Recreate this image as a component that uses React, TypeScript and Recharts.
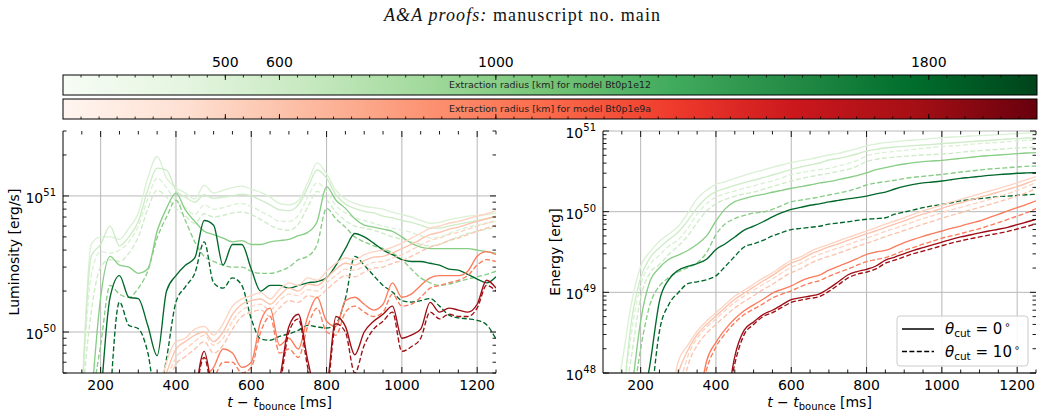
import React from 'react';
import { LineChart, Line, XAxis, YAxis, ReferenceLine } from 'recharts';

// Time axis shared by every series (ms after bounce)
const timeMs = [100, 125, 150, 175, 200, 225, 250, 275, 300, 325, 350, 375, 400, 425, 450, 475, 500, 525, 550, 575, 600, 625, 650, 675, 700, 725, 750, 775, 800, 825, 850, 875, 900, 925, 950, 975, 1000, 1025, 1050, 1075, 1100, 1125, 1150, 1175, 1200, 1225, 1250];

// Luminosity in units of 1e50 erg/s. s = theta_cut 0deg, d = theta_cut 10deg
const lumG500s = [null, null, 0.3, 4.4, 5.0, 5.0, 4.8, 5.8, 7.5, 13.5, 19.5, 13.5, 11.5, 10.5, 9.5, 12, 10.5, 11, 11.5, 11.8, 11.2, 10.6, 9.8, 8.8, 8.6, 9.2, 12.5, 17.5, 14.5, 11, 9.5, 8.8, 8.4, 8.2, 8.0, 7.6, 7.3, 7.0, 6.6, 6.3, 6.4, 6.7, 6.9, 7.1, 7.2, 7.3, 7.5];
const lumG500d = [null, null, 0.3, 2.6, 3.9, 3.8, 4.0, 4.6, 6.0, 9.5, 13.5, 11.5, 9.2, 8.2, 7.3, 8.6, 8.0, 8.2, 8.6, 8.8, 8.4, 7.7, 7.1, 6.5, 6.5, 7.2, 9.8, 12.5, 10.8, 8.5, 7.5, 6.9, 6.6, 6.3, 6.0, 5.8, 5.6, 5.4, 5.1, 4.9, 5.0, 5.3, 5.6, 5.9, 6.1, 6.3, 6.5];
const lumG600s = [null, null, 0.3, 3.6, 4.4, 6.0, 4.3, 5.0, 6.5, 11, 16, 15.5, 11, 9.8, 9.0, 10.2, 9.6, 9.8, 10.0, 10.3, 10.0, 9.3, 8.6, 7.9, 7.8, 8.6, 11.5, 15.5, 13.5, 10.2, 8.7, 8.1, 7.7, 7.5, 7.1, 6.9, 6.6, 6.4, 6.1, 5.8, 5.8, 6.0, 6.2, 6.4, 6.6, 6.8, 7.0];
const lumG600d = [null, null, 0.3, 1.4, 3.0, 3.4, 3.3, 3.8, 5.0, 8.0, 11.0, 9.8, 8.1, 7.1, 6.3, 7.4, 7.0, 7.2, 7.5, 7.6, 7.3, 6.7, 6.1, 5.7, 5.6, 6.2, 8.3, 10.8, 9.4, 7.6, 6.6, 6.0, 5.8, 5.6, 5.3, 5.0, 4.8, 4.6, 4.4, 4.3, 4.4, 4.7, 5.0, 5.3, 5.5, 5.7, 5.9];
const lumG1000s = [null, null, null, 0.3, 1.8, 3.6, 3.1, 3.0, 2.7, 2.9, 5.5, 8.1, 10.5, 7.9, 6.5, 5.5, 5.2, 4.9, 4.6, 4.7, 4.4, 4.4, 4.6, 4.7, 4.8, 5.1, 5.4, 6.5, 11.7, 9.3, 8.1, 6.8, 6.1, 5.9, 5.7, 5.5, 5.0, 4.5, 4.2, 4.1, 4.1, 4.1, 4.1, 4.1, 4.0, 3.9, 3.8];
const lumG1000d = [null, null, null, 0.3, 0.8, 2.2, 1.9, 1.8, 2.1, 2.8, 4.9, 7.0, 9.3, 6.6, 4.6, 3.6, 3.3, 3.1, 3.0, 3.0, 2.8, 2.7, 2.7, 2.8, 3.0, 3.4, 3.6, 4.4, 8.1, 6.8, 5.9, 5.0, 4.6, 4.3, 4.1, 3.8, 3.4, 2.9, 2.5, 2.3, 2.2, 2.25, 2.35, 2.45, 2.55, 2.65, 2.8];
const lumG1800s = [null, null, null, null, 0.3, 1.8, 2.6, 1.8, 1.76, 1.12, 0.67, 2.0, 2.6, 3.1, 3.5, 6.6, 6.1, 3.1, 4.4, 4.4, 2.9, 2.0, 2.2, 2.2, 2.1, 2.2, 2.3, 2.35, 2.5, 3.1, 4.1, 5.3, 5.0, 4.5, 4.0, 3.7, 3.4, 3.3, 3.3, 3.2, 3.1, 2.9, 2.85, 2.65, 2.45, 2.3, 2.55];
const lumG1800d = [null, null, null, null, null, 0.3, 1.66, 1.12, 1.06, 0.71, 0.3, 0.64, 1.66, 2.15, 2.7, 4.6, 2.3, 2.1, 2.5, 2.2, 1.25, 0.89, 0.87, 0.93, 0.97, 1.03, 1.12, 1.09, 1.07, 1.15, 1.76, 3.6, 3.1, 2.6, 2.2, 1.97, 1.7, 1.66, 1.7, 1.76, 1.55, 1.33, 1.27, 1.25, 1.22, 1.13, 0.89];
const lumR500s = [null, null, null, null, null, null, null, null, null, null, 0.3, 0.6, 0.85, 0.9, 1.05, 1.1, 0.95, 1.15, 1.55, 1.75, 1.85, 1.95, 1.75, 2.05, 2.3, 2.2, 2.5, 2.4, 2.8, 3.2, 3.5, 3.4, 3.7, 3.9, 4.0, 4.2, 4.5, 4.9, 5.3, 5.8, 6.0, 6.3, 6.5, 6.8, 7.1, 7.4, 7.8];
const lumR500d = [null, null, null, null, null, null, null, null, null, null, 0.3, 0.45, 0.65, 0.75, 0.85, 0.95, 0.8, 0.9, 1.2, 1.45, 1.55, 1.6, 1.45, 1.7, 1.9, 1.85, 2.05, 2.0, 2.3, 2.6, 2.9, 2.85, 3.05, 3.25, 3.3, 3.5, 3.7, 4.0, 4.35, 4.7, 4.9, 5.2, 5.4, 5.7, 6.0, 6.3, 6.6];
const lumR600s = [null, null, null, null, null, null, null, null, null, null, 0.3, 0.5, 0.75, 0.85, 0.95, 1.0, 0.85, 1.0, 1.35, 1.6, 1.7, 1.75, 1.6, 1.85, 2.1, 2.0, 2.25, 2.2, 2.5, 2.9, 3.2, 3.1, 3.35, 3.55, 3.6, 3.8, 4.1, 4.4, 4.8, 5.2, 5.4, 5.7, 5.9, 6.2, 6.5, 6.8, 7.1];
const lumR600d = [null, null, null, null, null, null, null, null, null, null, 0.3, 0.4, 0.58, 0.66, 0.75, 0.85, 0.7, 0.8, 1.05, 1.3, 1.4, 1.45, 1.3, 1.5, 1.7, 1.65, 1.85, 1.8, 2.05, 2.35, 2.6, 2.55, 2.75, 2.95, 3.0, 3.2, 3.35, 3.6, 3.9, 4.2, 4.4, 4.7, 4.9, 5.2, 5.5, 5.8, 6.1];
const lumR1000s = [null, null, null, null, null, null, null, null, null, null, null, null, null, null, 0.3, 0.45, 0.55, 0.75, 0.7, 0.55, 0.6, 1.2, 1.5, 0.8, 0.9, 0.75, 1.3, 1.8, 1.2, 1.1, 1.7, 1.8, 1.6, 1.45, 1.6, 2.3, 1.8, 1.9, 2.2, 2.5, 2.6, 2.6, 2.6, 2.8, 3.6, 3.9, 3.7];
const lumR1000d = [null, null, null, null, null, null, null, null, null, null, null, null, null, null, 0.3, 0.35, 0.45, 0.6, 0.6, 0.5, 0.55, 1.0, 1.3, 0.7, 0.75, 0.65, 1.1, 1.5, 1.0, 0.95, 1.4, 1.55, 1.4, 1.3, 1.4, 1.9, 1.55, 1.6, 1.8, 2.1, 2.2, 2.3, 2.4, 2.6, 3.1, 3.4, 3.3];
const lumR1800s = [null, null, null, null, null, null, null, null, null, null, null, null, null, null, 0.3, 0.72, 0.35, 0.3, 0.3, 0.45, 0.4, 0.3, 0.3, 0.45, 1.1, 1.35, 0.62, 0.35, 0.4, 1.3, 1.1, 0.68, 1.0, 1.2, 1.35, 1.55, 0.9, 0.95, 1.05, 1.65, 1.4, 1.5, 1.45, 1.4, 1.6, 2.4, 2.1];
const lumR1800d = [null, null, null, null, null, null, null, null, null, null, null, null, null, null, 0.3, 0.65, 0.33, 0.3, 0.3, 0.4, 0.36, 0.3, 0.3, 0.4, 1.0, 1.25, 0.55, 0.32, 0.36, 1.15, 1.0, 0.5, 0.8, 1.05, 1.2, 1.4, 0.72, 0.78, 0.9, 1.4, 1.25, 1.35, 1.3, 1.3, 1.5, 2.2, 2.0];

// Cumulative energy in units of 1e48 erg
const enG500s = [null, 0.3, 1.3, 7.1, 21, 32, 43, 53, 66, 95, 145, 184, 218, 235, 259, 282, 307, 328, 355, 379, 405, 429, 449, 476, 504, 529, 565, 604, 658, 690, 717, 738, 759, 773, 788, 811, 827, 843, 851, 867, 875, 888, 900, 914, 927, 940, 953];
const enG500d = [null, null, 0.3, 3.0, 12.3, 22.2, 29, 37.6, 45, 62, 93, 125, 152, 167, 180, 195, 208, 225, 240, 264, 290, 304, 319, 332, 344, 368, 394, 433, 490, 524, 544, 560, 576, 593, 610, 627, 640, 652, 664, 684, 697, 710, 724, 738, 752, 766, 773];
const enG600s = [null, null, 0.3, 4.2, 15.2, 26.9, 35.8, 45, 56, 77, 112, 149, 177, 195, 212, 229, 245, 264, 285, 307, 335, 358, 379, 401, 437, 458, 485, 519, 565, 593, 616, 633, 645, 658, 671, 684, 697, 710, 724, 738, 752, 766, 780, 796, 804, 819, 827];
const enG600d = [null, null, 0.3, 1.55, 8.6, 17.5, 22.2, 29.6, 37.6, 50, 73, 102, 125, 142, 155, 166, 175, 189, 204, 222, 240, 257, 271, 285, 299, 316, 335, 368, 417, 445, 462, 476, 485, 495, 504, 510, 518, 529, 544, 560, 571, 582, 593, 604, 616, 622, 633];
const enG1000s = [null, null, null, 0.5, 4.4, 13.8, 20.2, 25.7, 29, 33, 39.4, 50, 76.6, 109, 133, 145, 156, 164, 174, 184, 195, 204, 214, 227, 236, 249, 264, 280, 302, 332, 351, 372, 390, 405, 417, 425, 433, 445, 458, 471, 485, 495, 504, 514, 524, 534, 539];
const enG1000d = [null, null, null, 0.3, 2.0, 7.1, 12, 15.2, 18, 20.2, 23.3, 31, 52, 71, 82, 90, 96, 99, 107, 119, 133, 139, 145, 152, 161, 170, 180, 195, 214, 227, 236, 245, 257, 267, 274, 282, 290, 299, 310, 319, 328, 338, 344, 351, 358, 365, 368];
const enG1800s = [null, null, null, null, 0.3, 1.3, 7.8, 14.5, 18.8, 21, 22.7, 25.7, 34, 40, 48.6, 59, 66, 75, 86, 97, 107, 113, 120, 125, 132, 138, 144, 149, 156, 166, 175, 191, 206, 218, 227, 233, 240, 249, 259, 266, 274, 282, 288, 293, 299, 302, 304];
const enG1800d = [null, null, null, null, null, 0.3, 3.3, 7.1, 9.9, 12.8, 13.5, 14.3, 16, 21, 28, 36.5, 40, 44, 50, 55, 60, 62, 64, 66, 70, 72.5, 75, 78, 80.5, 82, 84, 93, 99, 105, 112, 118, 123, 129, 136, 141, 145, 149, 154, 156, 159, 162, 164];
const enR500s = [null, null, null, null, null, null, null, 0.3, 1.4, 2.2, 3.3, 4.4, 5.6, 7.1, 9.0, 10.6, 12.6, 15, 17.5, 21, 25, 27.5, 32, 35.8, 39.4, 43.3, 47.6, 52.4, 57.6, 63, 70, 76.6, 84, 93, 102, 111, 121, 132, 142, 154, 166, 179, 193, 210, 228, 250, 272];
const enR500d = [null, null, null, null, null, null, null, 0.2, 0.6, 1.6, 2.7, 3.7, 4.7, 6.0, 7.5, 9.0, 10.6, 12.5, 14.6, 17.5, 20.5, 22.8, 26.5, 29.5, 32.5, 35.5, 39, 43, 47, 51.5, 57, 62, 68, 75, 82, 89, 97, 105, 113, 122, 131, 141, 153, 167, 183, 205, 228];
const enR600s = [null, null, null, null, null, null, null, 0.3, 1.0, 1.9, 3.0, 4.0, 5.1, 6.5, 8.2, 9.8, 11.6, 13.8, 16.2, 19.5, 23, 25.5, 29.5, 33, 36.5, 40, 44, 48.5, 53, 58, 64, 70, 77, 85, 93, 101, 110, 120, 129, 139, 150, 162, 175, 189, 205, 225, 250];
const enR600d = [null, null, null, null, null, null, null, null, 0.3, 1.2, 2.2, 3.1, 4.0, 5.1, 6.4, 7.7, 9.1, 10.8, 12.6, 15, 17.6, 19.6, 22.8, 25.5, 28, 30.5, 33.5, 37, 40.5, 44.5, 49, 53.5, 58.5, 64, 70, 76, 83, 90, 97, 105, 113, 122, 132, 143, 156, 172, 195];
const enR1000s = [null, null, null, null, null, null, null, null, null, null, 0.3, 1.4, 2.4, 3.5, 4.7, 5.9, 7.0, 8.2, 9.8, 10.9, 12.0, 13.8, 15.2, 16.4, 18.8, 21, 23.3, 26.2, 29.6, 31.6, 33.1, 36.8, 41.3, 45.4, 49.5, 53.4, 57.6, 62, 66.3, 71.7, 76.6, 84.3, 92.7, 102, 112, 123, 136];
const enR1000d = [null, null, null, null, null, null, null, null, null, null, 0.3, 1.1, 2.1, 3.1, 4.2, 5.3, 6.2, 7.2, 8.5, 9.5, 10.4, 11.8, 13.0, 14.0, 15.8, 17.6, 19.4, 21.7, 24.0, 25.5, 27, 29.6, 33, 36, 39.5, 43, 47, 50, 53.5, 57.5, 61.5, 67, 73, 80, 88, 97, 109];
const enR1800s = [null, null, null, null, null, null, null, null, null, null, null, null, null, 0.3, 1.6, 3.4, 4.3, 5.3, 6.0, 7.0, 8.1, 8.6, 9.0, 9.6, 11.2, 13.5, 16.4, 18.1, 19.3, 21.2, 25.1, 27.4, 30.2, 33.1, 35.8, 38.7, 41.8, 45.4, 48.6, 51.4, 54.5, 57.6, 60.5, 64, 69, 74.5, 80.4];
const enR1800d = [null, null, null, null, null, null, null, null, null, null, null, null, null, 0.3, 1.3, 3.0, 4.0, 5.0, 5.6, 6.5, 7.5, 8.0, 8.4, 8.9, 10.3, 12.4, 15.0, 16.8, 17.8, 19.5, 23.0, 25.0, 27.5, 30.2, 32.5, 35.0, 37.8, 40.8, 43.5, 46, 48.6, 51.3, 53.8, 57, 61, 65.5, 70.5];

// Extraction radii (km) and their colours on the two colour bars
const radiusKm = [500, 600, 1000, 1800];
const greenShades = ['#dbf1d5', '#ceecc7', '#88cd86', '#00682a'];
const redShades = ['#fdd4c2', '#fcc3ac', '#fb7c5c', '#9e0d14'];
const greensMap = ['#f7fcf5', '#e5f5e0', '#c7e9c0', '#a1d99b', '#74c476', '#41ab5d', '#238b45', '#006d2c', '#00441b'];
const redsMap = ['#fff5f0', '#fee0d2', '#fcbba1', '#fc9272', '#fb6a4a', '#ef3b2c', '#cb181d', '#a50f15', '#67000d'];
const colorbarRangeKm = [200, 2000];
const colorbarMinorCount = 54;
const colorbarTitles = ['Extraction radius [km] for model Bt0p1e12', 'Extraction radius [km] for model Bt0p1e9a'];

// Axis ticks
const xMajorTicks = [200, 400, 600, 800, 1000, 1200];
const xAllTicks = [150, 200, 250, 300, 350, 400, 450, 500, 550, 600, 650, 700, 750, 800, 850, 900, 950, 1000, 1050, 1100, 1150, 1200, 1250];
const lumTicks = [0.5, 0.6, 0.7, 0.8, 0.9, 1, 2, 3, 4, 5, 6, 7, 8, 9, 10, 20, 30];
const lumMajor = [1, 10];
const lumExponents = ['50', '51'];
const enTicks = [1, 2, 3, 4, 5, 6, 7, 8, 9, 10, 20, 30, 40, 50, 60, 70, 80, 90, 100, 200, 300, 400, 500, 600, 700, 800, 900, 1000];
const enMajor = [1, 10, 100, 1000];
const enExponents = ['48', '49', '50', '51'];
const legendItems = [{ angle: '0', dashed: false }, { angle: '10', dashed: true }];

const FONT = "'DejaVu Sans', sans-serif";
const DASH = '5 2.4';

type Series = { key: string; values: (number | null)[]; color: string; dashed: boolean };

const lumSeries: Series[] = [
  { key: 'g500s', values: lumG500s, color: greenShades[0], dashed: false },
  { key: 'g500d', values: lumG500d, color: greenShades[0], dashed: true },
  { key: 'g600s', values: lumG600s, color: greenShades[1], dashed: false },
  { key: 'g600d', values: lumG600d, color: greenShades[1], dashed: true },
  { key: 'g1000s', values: lumG1000s, color: greenShades[2], dashed: false },
  { key: 'g1000d', values: lumG1000d, color: greenShades[2], dashed: true },
  { key: 'g1800s', values: lumG1800s, color: greenShades[3], dashed: false },
  { key: 'g1800d', values: lumG1800d, color: greenShades[3], dashed: true },
  { key: 'r500s', values: lumR500s, color: redShades[0], dashed: false },
  { key: 'r500d', values: lumR500d, color: redShades[0], dashed: true },
  { key: 'r600s', values: lumR600s, color: redShades[1], dashed: false },
  { key: 'r600d', values: lumR600d, color: redShades[1], dashed: true },
  { key: 'r1000s', values: lumR1000s, color: redShades[2], dashed: false },
  { key: 'r1000d', values: lumR1000d, color: redShades[2], dashed: true },
  { key: 'r1800s', values: lumR1800s, color: redShades[3], dashed: false },
  { key: 'r1800d', values: lumR1800d, color: redShades[3], dashed: true },
];

const enSeries: Series[] = [
  { key: 'g500s', values: enG500s, color: greenShades[0], dashed: false },
  { key: 'g500d', values: enG500d, color: greenShades[0], dashed: true },
  { key: 'g600s', values: enG600s, color: greenShades[1], dashed: false },
  { key: 'g600d', values: enG600d, color: greenShades[1], dashed: true },
  { key: 'g1000s', values: enG1000s, color: greenShades[2], dashed: false },
  { key: 'g1000d', values: enG1000d, color: greenShades[2], dashed: true },
  { key: 'g1800s', values: enG1800s, color: greenShades[3], dashed: false },
  { key: 'g1800d', values: enG1800d, color: greenShades[3], dashed: true },
  { key: 'r500s', values: enR500s, color: redShades[0], dashed: false },
  { key: 'r500d', values: enR500d, color: redShades[0], dashed: true },
  { key: 'r600s', values: enR600s, color: redShades[1], dashed: false },
  { key: 'r600d', values: enR600d, color: redShades[1], dashed: true },
  { key: 'r1000s', values: enR1000s, color: redShades[2], dashed: false },
  { key: 'r1000d', values: enR1000d, color: redShades[2], dashed: true },
  { key: 'r1800s', values: enR1800s, color: redShades[3], dashed: false },
  { key: 'r1800d', values: enR1800d, color: redShades[3], dashed: true },
];

const buildRows = (series: Series[]) =>
  timeMs.map((t, i) => {
    const row: Record<string, number | null> = { t };
    series.forEach((s) => {
      row[s.key] = s.values[i];
    });
    return row;
  });

const lumRows = buildRows(lumSeries);
const enRows = buildRows(enSeries);

// Panel geometry (chart-local pixels); the chart box starts 21px above the plot frame
const CHART_TOP = 110;
const CH_H = 307;
const MARGIN_TOP = 21;
const X_AXIS_H = 30;
const MARGIN_BOTTOM = 14;
const Y_AXIS_W = 50;
const PLOT_TOP = MARGIN_TOP;
const PLOT_BOTTOM = CH_H - MARGIN_BOTTOM - X_AXIS_H;

const makeXTick = () => (props: any) => {
  const { x, payload } = props;
  const v = payload.value;
  const major = xMajorTicks.includes(v);
  const len = major ? 6 : 3.5;
  return (
    <g>
      <line x1={x} x2={x} y1={PLOT_BOTTOM} y2={PLOT_BOTTOM - len} stroke="#000" strokeWidth={0.9} />
      <line x1={x} x2={x} y1={PLOT_TOP} y2={PLOT_TOP + len} stroke="#000" strokeWidth={0.9} />
      {major && (
        <text x={x} y={PLOT_BOTTOM + 17} textAnchor="middle" fontSize={14} fontFamily={FONT} fill="#000">
          {v}
        </text>
      )}
    </g>
  );
};

const makeYTick = (plotLeft: number, plotRight: number, majors: number[], exps: string[]) => (props: any) => {
  const { y, payload } = props;
  const v = payload.value;
  const mi = majors.indexOf(v);
  const len = mi >= 0 ? 6 : 3.5;
  return (
    <g>
      <line x1={plotLeft} x2={plotLeft + len} y1={y} y2={y} stroke="#000" strokeWidth={0.9} />
      <line x1={plotRight} x2={plotRight - len} y1={y} y2={y} stroke="#000" strokeWidth={0.9} />
      {mi >= 0 && (
        <text x={plotLeft - 7} y={y + 7} textAnchor="end" fontSize={14} fontFamily={FONT} fill="#000">
          10
          <tspan dy={-7} fontSize={10}>
            {exps[mi]}
          </tspan>
        </text>
      )}
    </g>
  );
};

type PanelProps = {
  width: number;
  marginLeft: number;
  marginRight: number;
  rows: Record<string, number | null>[];
  series: Series[];
  yDomain: [number, number];
  yTicks: number[];
  yMajor: number[];
  yExps: string[];
};

function Panel({ width, marginLeft, marginRight, rows, series, yDomain, yTicks, yMajor, yExps }: PanelProps) {
  const plotLeft = marginLeft + Y_AXIS_W;
  const plotRight = width - marginRight;
  return (
    <LineChart
      width={width}
      height={CH_H}
      data={rows}
      margin={{ top: MARGIN_TOP, right: marginRight, bottom: MARGIN_BOTTOM, left: marginLeft }}
    >
      <XAxis
        dataKey="t"
        type="number"
        domain={[100, 1250]}
        allowDataOverflow
        ticks={xAllTicks}
        interval={0}
        height={X_AXIS_H}
        tickLine={false}
        tickSize={0}
        tickMargin={0}
        axisLine={{ stroke: '#000', strokeWidth: 1 }}
        tick={makeXTick()}
      />
      <XAxis
        xAxisId="top"
        orientation="top"
        dataKey="t"
        type="number"
        domain={[100, 1250]}
        allowDataOverflow
        height={0}
        tick={false}
        tickLine={false}
        axisLine={{ stroke: '#000', strokeWidth: 1 }}
      />
      <YAxis
        type="number"
        scale="log"
        domain={yDomain}
        allowDataOverflow
        ticks={yTicks}
        interval={0}
        width={Y_AXIS_W}
        tickLine={false}
        tickSize={0}
        tickMargin={0}
        axisLine={{ stroke: '#000', strokeWidth: 1 }}
        tick={makeYTick(plotLeft, plotRight, yMajor, yExps)}
      />
      <YAxis
        yAxisId="right"
        orientation="right"
        type="number"
        scale="log"
        domain={yDomain}
        allowDataOverflow
        width={0}
        tick={false}
        tickLine={false}
        axisLine={{ stroke: '#000', strokeWidth: 1 }}
      />
      {xMajorTicks.map((v) => (
        <ReferenceLine key={'gx' + v} x={v} stroke="#b8b8b8" strokeWidth={1} />
      ))}
      {yMajor.map((v) => (
        <ReferenceLine key={'gy' + v} y={v} stroke="#b8b8b8" strokeWidth={1} />
      ))}
      {series.map((s) => (
        <Line
          key={s.key}
          dataKey={s.key}
          type="monotone"
          stroke={s.color}
          strokeWidth={1.35}
          strokeDasharray={s.dashed ? DASH : undefined}
          dot={false}
          activeDot={false}
          connectNulls={false}
          isAnimationActive={false}
        />
      ))}
    </LineChart>
  );
}

// Colour bar geometry (page pixels)
const CB_LEFT = 63;
const CB_RIGHT = 1037;
const cbX = (km: number) => CB_LEFT + ((km - colorbarRangeKm[0]) / (colorbarRangeKm[1] - colorbarRangeKm[0])) * (CB_RIGHT - CB_LEFT);
const cbMinor: number[] = [];
for (let k = 1; k < colorbarMinorCount; k++) {
  cbMinor.push(colorbarRangeKm[0] + ((colorbarRangeKm[1] - colorbarRangeKm[0]) * k) / colorbarMinorCount);
}

function Overlay() {
  const bars = [
    { y: 75, h: 20, map: greensMap, id: 'cbGreens', title: colorbarTitles[0], ticksTop: true },
    { y: 99, h: 20, map: redsMap, id: 'cbReds', title: colorbarTitles[1], ticksTop: false },
  ];
  return (
    <svg width={1043} height={417} style={{ position: 'absolute', left: 0, top: 0, pointerEvents: 'none' }}>
      <defs>
        {bars.map((b) => (
          <linearGradient key={b.id} id={b.id} x1="0" x2="1" y1="0" y2="0">
            {b.map.map((c, i) => (
              <stop key={i} offset={`${(i / (b.map.length - 1)) * 100}%`} stopColor={c} />
            ))}
          </linearGradient>
        ))}
      </defs>
      <text
        x={522}
        y={21}
        textAnchor="middle"
        fontSize={18}
        fontFamily="'Liberation Serif', 'DejaVu Serif', serif"
        fill="#111"
        textLength={276}
        lengthAdjust="spacing"
      >
        <tspan fontStyle="italic">A&amp;A proofs:</tspan> manuscript no. main
      </text>
      {radiusKm.map((r) => (
        <text key={'cbl' + r} x={cbX(r)} y={67} textAnchor="middle" fontSize={14} fontFamily={FONT} fill="#000">
          {r}
        </text>
      ))}
      {bars.map((b) => {
        const edge = b.ticksTop ? b.y : b.y + b.h;
        const dir = b.ticksTop ? 1 : -1;
        return (
          <g key={b.id}>
            <rect x={CB_LEFT} y={b.y} width={CB_RIGHT - CB_LEFT} height={b.h} fill={`url(#${b.id})`} stroke="#000" strokeWidth={1} />
            {cbMinor.map((km) => (
              <line key={'m' + km} x1={cbX(km)} x2={cbX(km)} y1={edge} y2={edge + dir * 2.5} stroke="#000" strokeWidth={0.8} />
            ))}
            {radiusKm.map((km) => (
              <line key={'M' + km} x1={cbX(km)} x2={cbX(km)} y1={edge} y2={edge + dir * 5} stroke="#000" strokeWidth={0.9} />
            ))}
            <text
              x={(CB_LEFT + CB_RIGHT) / 2}
              y={b.y + b.h / 2 + 3}
              textAnchor="middle"
              fontSize={9}
              fontFamily={FONT}
              fill="#222"
              textLength={202}
              lengthAdjust="spacingAndGlyphs"
            >
              {b.title}
            </text>
          </g>
        );
      })}
      {/* axis titles */}
      <text x={19} y={252} transform="rotate(-90 19 252)" textAnchor="middle" fontSize={14} fontFamily={FONT} fill="#000">
        Luminosity [erg/s]
      </text>
      <text x={560} y={252} transform="rotate(-90 560 252)" textAnchor="middle" fontSize={14} fontFamily={FONT} fill="#000">
        Energy [erg]
      </text>
      {[279.5, 819.5].map((cx) => (
        <text key={'xl' + cx} x={cx} y={407} textAnchor="middle" fontSize={14} fontFamily={FONT} fill="#000">
          <tspan fontStyle="italic">t</tspan>
          <tspan> − </tspan>
          <tspan fontStyle="italic">t</tspan>
          <tspan dy={3} fontSize={10}>
            bounce
          </tspan>
          <tspan dy={-3}> [ms]</tspan>
        </text>
      ))}
      {/* legend */}
      <rect x={897} y={316} width={131} height={50} rx={3} fill="#fff" fillOpacity={0.85} stroke="#cccccc" strokeWidth={1} />
      {legendItems.map((it, i) => {
        const ly = 329 + i * 22.5;
        return (
          <g key={'lg' + i}>
            <line x1={902} x2={934} y1={ly} y2={ly} stroke="#000" strokeWidth={1.5} strokeDasharray={it.dashed ? DASH : undefined} />
            <text x={945} y={ly + 5} fontSize={15} fontFamily={FONT} fill="#000">
              <tspan fontStyle="italic">θ</tspan>
              <tspan dy={3} fontSize={10.5}>
                cut
              </tspan>
              <tspan dy={-3}> = {it.angle}</tspan>
              <tspan dx={2} dy={-6} fontSize={10}>
                ∘
              </tspan>
            </text>
          </g>
        );
      })}
    </svg>
  );
}

export default function App() {
  return (
    <div style={{ position: 'absolute', left: 0, top: 0, width: 1043, height: 417, background: '#fff', overflow: 'hidden' }}>
      <div style={{ position: 'absolute', left: 0, top: CHART_TOP }}>
        <Panel
          width={520}
          marginLeft={13}
          marginRight={24}
          rows={lumRows}
          series={lumSeries}
          yDomain={[0.5, 30]}
          yTicks={lumTicks}
          yMajor={lumMajor}
          yExps={lumExponents}
        />
      </div>
      <div style={{ position: 'absolute', left: 520, top: CHART_TOP }}>
        <Panel
          width={523}
          marginLeft={33}
          marginRight={7}
          rows={enRows}
          series={enSeries}
          yDomain={[1, 1000]}
          yTicks={enTicks}
          yMajor={enMajor}
          yExps={enExponents}
        />
      </div>
      <Overlay />
    </div>
  );
}
